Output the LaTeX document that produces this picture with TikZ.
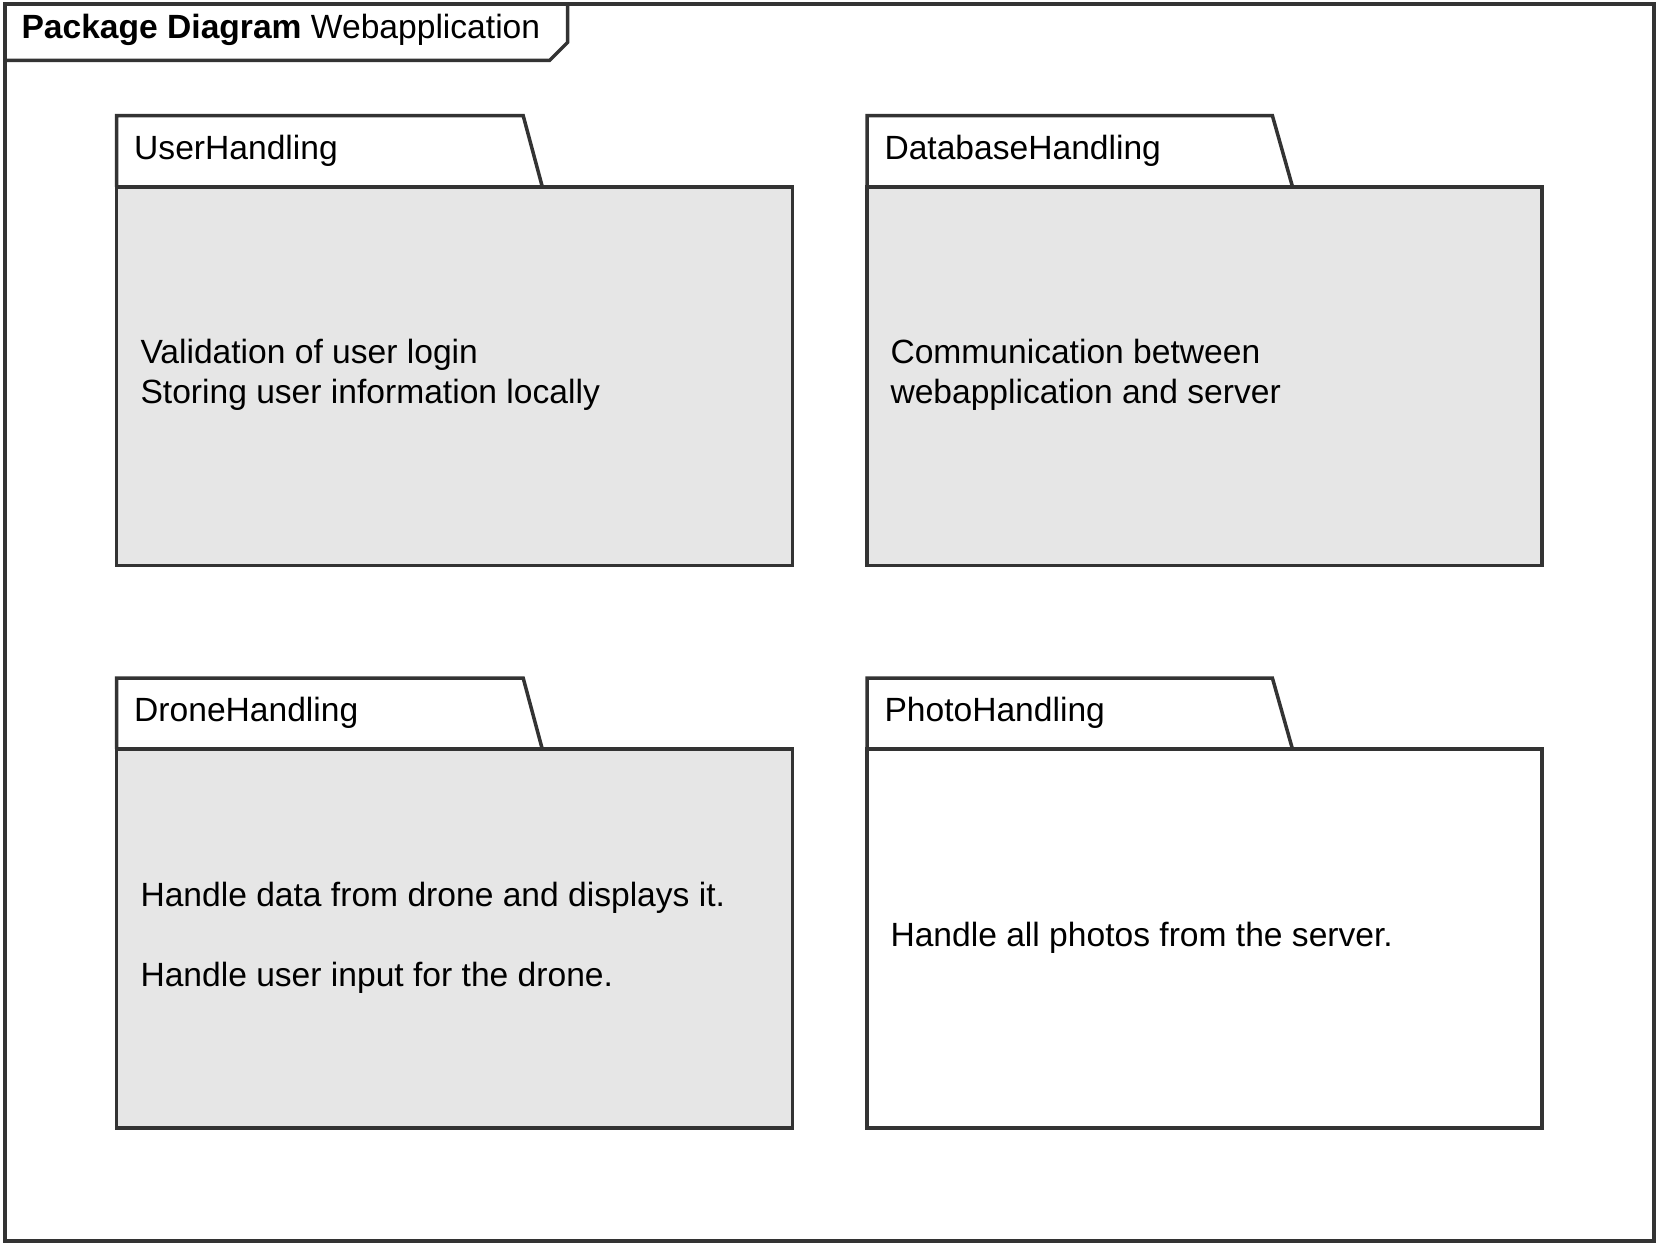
\documentclass[tikz,border=0pt]{standalone}
\usepackage{fontspec}
\setmainfont{Liberation Sans}
\definecolor{lineGray}{RGB}{51,51,51}
\definecolor{bodyGray}{RGB}{230,230,230}
\tikzset{every picture/.style={line width=1.5pt}}
\tikzset{
  frameline/.style={draw=lineGray, line width=1.75pt, line join=miter},
  pkgline/.style={draw=lineGray, line width=1.75pt},
  labeltext/.style={font=\fontsize{16.8}{20}\selectfont, inner sep=0pt, anchor=west},
  bodytext/.style={font=\fontsize{16.8}{20}\selectfont, inner sep=0pt, anchor=west, align=left}
}

\begin{document}
\begin{tikzpicture}[x=0.5pt,y=0.5pt,yscale=-1,xscale=1]
	\useasboundingbox (0,0) rectangle (1664,1252);

	%Shape: Frame [id:outerframe]
	\draw  [frameline,fill=white] (5,4) -- (1654,4) -- (1654,1241) -- (5,1241) -- cycle ;
	%Shape: Frame tab [id:frametab]
	\draw  [frameline] (5,60.5) -- (549.5,60.5) -- (567.5,42.5) -- (567.5,4) ;

	%Shape: Package [id:userpkg]
	\draw  [pkgline,fill=white] (116.7,186.8) -- (116.7,115.7) -- (523.2,115.7) -- (542.3,186.8) ;
	\draw  [pkgline,fill=bodyGray] (116.7,186.8) rectangle (792.7,565.6) ;
	%Shape: Package [id:dbpkg]
	\draw  [pkgline,fill=white] (867,186.8) -- (867,115.7) -- (1272.4,115.7) -- (1292.5,186.8) ;
	\draw  [pkgline,fill=bodyGray] (867,186.8) rectangle (1542,565.6) ;
	%Shape: Package [id:dronepkg]
	\draw  [pkgline,fill=white] (116.7,749.2) -- (116.7,678.1) -- (523.2,678.1) -- (542.3,749.2) ;
	\draw  [pkgline,fill=bodyGray] (116.7,749.2) rectangle (792.7,1128.1) ;
	%Shape: Package [id:photopkg]
	\draw  [pkgline,fill=white] (867,749.2) -- (867,678.1) -- (1272.4,678.1) -- (1292.5,749.2) ;
	\draw  [pkgline,fill=white] (867,749.2) rectangle (1542,1128.1) ;

	% Text Node
	\node [labeltext] (title) at (20,30) {\textbf{Package Diagram} Webapplication};
	% Text Node
	\node [labeltext] (userlabel) at (132.7,150.5) {UserHandling};
	% Text Node
	\node [labeltext] (dblabel) at (883,150.5) {DatabaseHandling};
	% Text Node
	\node [labeltext] (dronelabel) at (132.7,713) {DroneHandling};
	% Text Node
	\node [labeltext] (photolabel) at (883,713) {PhotoHandling};

	% Text Node
	\node [bodytext] (usertext) at (139,374.5) {Validation of user login\\Storing user information locally};
	% Text Node
	\node [bodytext] (dbtext) at (889,374.5) {Communication between\\webapplication and server};
	% Text Node
	\node [bodytext] (dronetext) at (139,938) {Handle data from drone and displays it.\\[20pt]Handle user input for the drone.};
	% Text Node
	\node [bodytext] (phototext) at (889,938) {Handle all photos from the server.};

\end{tikzpicture}
\end{document}
